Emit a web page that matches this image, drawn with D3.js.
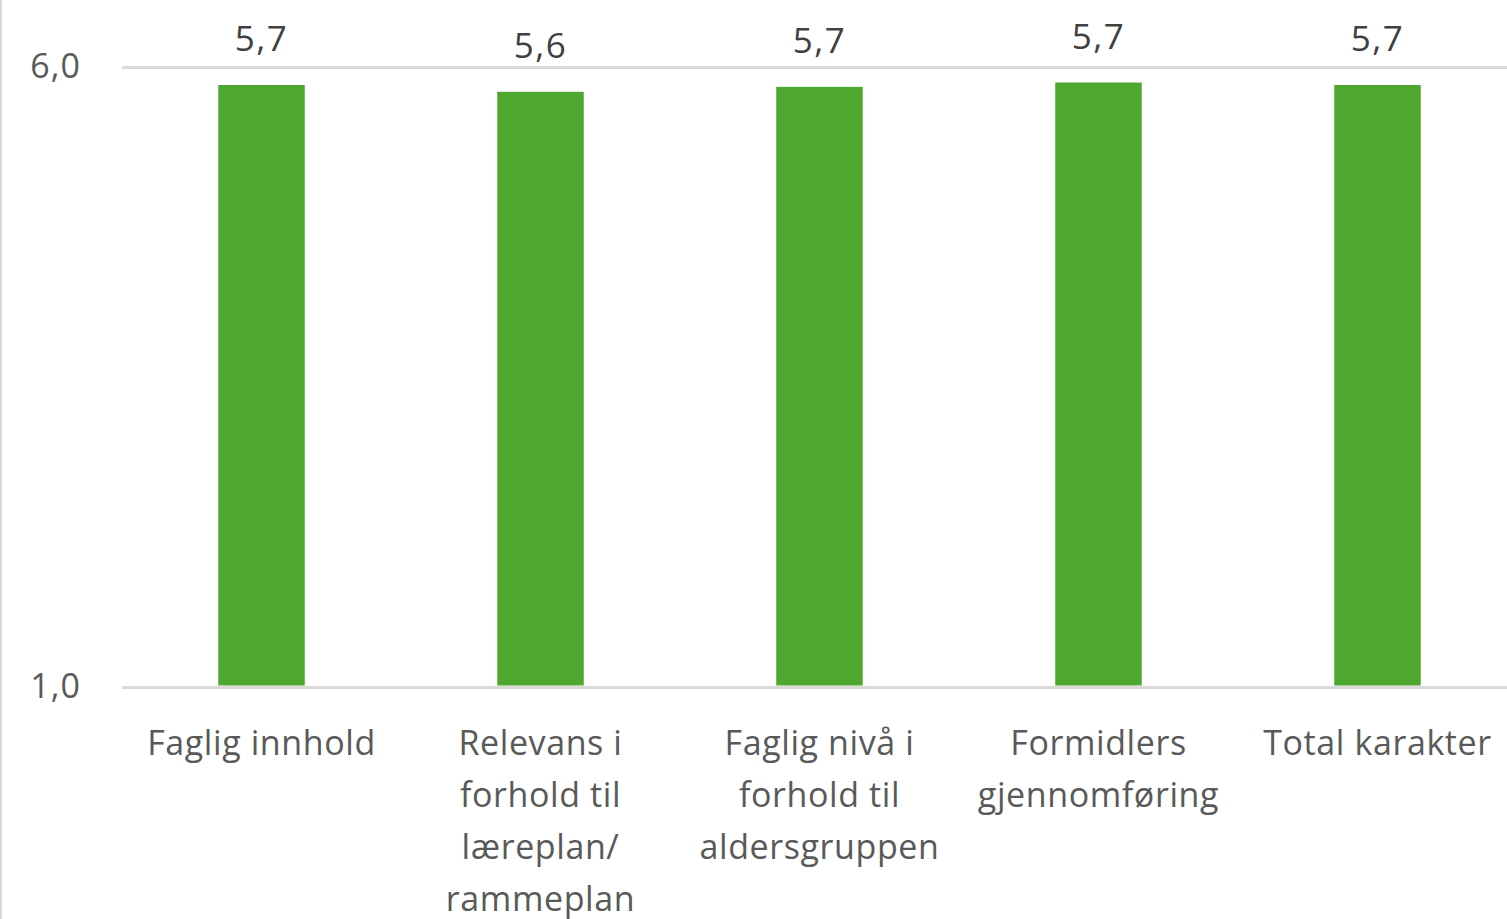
<!DOCTYPE html>
<html>
<head>
  <meta charset='utf-8'>
  <style>
    body { margin: 0; background: #fff; overflow: hidden; }
    text { font-family: 'Open Sans', sans-serif; }
  </style>
  <script src='https://cdn.jsdelivr.net/npm/d3@7/dist/d3.min.js'></script>
</head>
<body>
  <script>
    let [width, height] = [1507, 919]

    // categories, one line per wrapped row
    let categories = [
      ['Faglig innhold'],
      ['Relevans i', 'forhold til', 'læreplan/', 'rammeplan'],
      ['Faglig nivå i', 'forhold til', 'aldersgruppen'],
      ['Formidlers', 'gjennomføring'],
      ['Total karakter']
    ]
    // bar heights as drawn, and the labels shown on them
    let values = [5.855, 5.80, 5.84, 5.875, 5.855]
    let valueLabels = ['5,7', '5,6', '5,7', '5,7', '5,7']
    let yTicks = [1, 6]

    let x = d3.scaleBand(d3.range(categories.length), [122, 1517]).paddingInner(0.69).paddingOuter(0.345)
    let y = d3.scaleLinear([1, 6], [687, 67])

    let svg = d3.select('body').append('svg')
      .attr('width', width)
      .attr('height', height)

    // chart frame on the left
    svg.append('line')
      .attr('x1', 1).attr('x2', 1).attr('y1', 0).attr('y2', height)
      .attr('stroke', '#d9d9d9').attr('stroke-width', 2)

    let yAxis = svg.append('g')
      .call(d3.axisLeft(y).tickValues(yTicks).tickSize(-1395).tickFormat(d => d3.format('.1f')(d).replace('.', ',')))
      .attr('transform', 'translate(122,0)')
    yAxis.select('.domain').remove()
    yAxis.selectAll('.tick line').attr('stroke', '#d9d9d9').attr('stroke-width', 3)
    yAxis.selectAll('.tick text')
      .attr('x', -41)
      .attr('fill', '#595959')
      .attr('font-size', 34)
      .attr('letter-spacing', 1)
      .attr('font-family', "'Open Sans', sans-serif")

    svg.append('g')
      .selectAll('rect')
      .data(values)
      .join('rect')
      .attr('x', (d, i) => x(i))
      .attr('width', x.bandwidth())
      .attr('y', d => y(d))
      .attr('height', d => y(1) - y(d) - 1.5)
      .attr('fill', '#4ea72e')

    svg.append('g')
      .selectAll('text')
      .data(values)
      .join('text')
      .attr('x', (d, i) => x(i) + x.bandwidth() / 2)
      .attr('y', d => y(d) - 34)
      .attr('text-anchor', 'middle')
      .attr('fill', '#404040')
      .attr('font-size', 35)
      .attr('letter-spacing', 1.5)
      .text((d, i) => valueLabels[i])

    let cats = svg.append('g')
      .selectAll('text')
      .data(categories)
      .join('text')
      .attr('x', (d, i) => x(i) + x.bandwidth() / 2)
      .attr('y', 755)
      .attr('text-anchor', 'middle')
      .attr('fill', '#595959')
      .attr('font-size', 34)
      .attr('letter-spacing', 0.6)
    cats.selectAll('tspan')
      .data(d => d)
      .join('tspan')
      .attr('x', function () { return this.parentNode.getAttribute('x') })
      .attr('dy', (d, j) => j ? 52 : 0)
      .text(d => d)
  </script>
</body>
</html>
